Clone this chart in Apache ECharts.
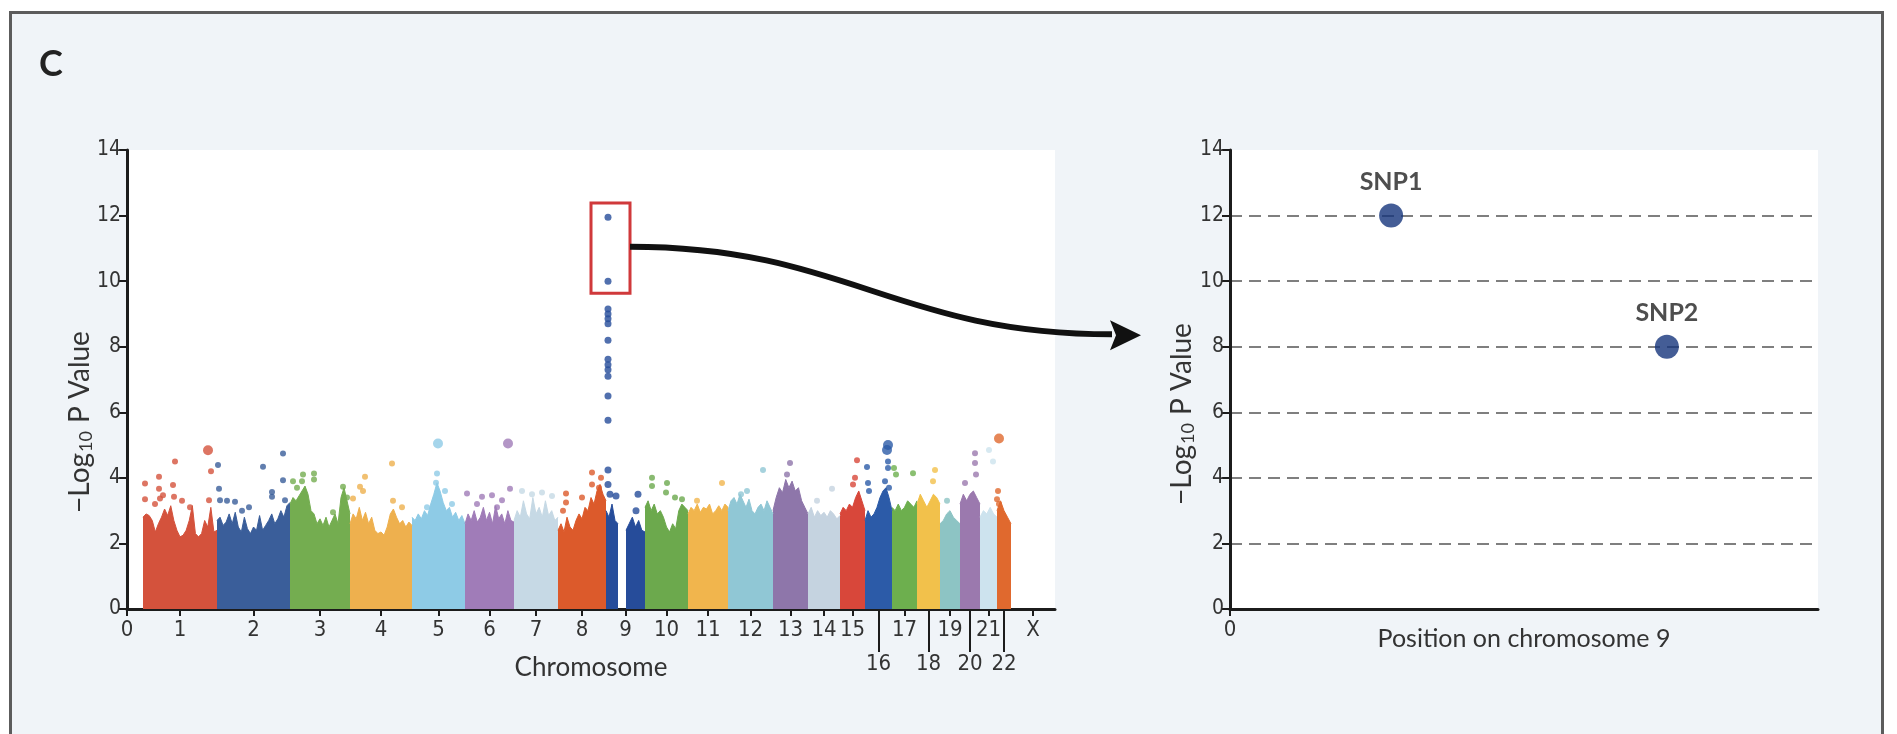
<!DOCTYPE html>
<html>
<head>
<meta charset="utf-8">
<title>Manhattan plot – chromosome 9 signal</title>
<script src="https://cdn.jsdelivr.net/npm/echarts@6/dist/echarts.min.js"></script>
<style>
  html, body { margin: 0; padding: 0; background: #ffffff; }
  #frame {
    position: absolute; left: 9px; top: 11px; width: 1875px; height: 760px;
    background: #f0f4f8; border: 3px solid #5c5c5c; box-sizing: border-box;
  }
  #chart { position: absolute; left: 0; top: 0; width: 1897px; height: 734px; }
</style>
</head>
<body>
<div id="frame"></div>
<div id="chart"></div>
<script>
// ---- genome layout (cumulative position units along the x axis) ----
const chromNames = ['1','2','3','4','5','6','7','8','9','10','11','12','13','14','15','16','17','18','19','20','21','22','X'];
const chromStart = [16, 90, 163, 223, 285, 338, 387, 431, 479, 518, 561, 601, 646, 681, 713, 738, 765, 790, 813, 833, 853, 870, 884];
const chromEnd   = [90, 163, 223, 285, 338, 387, 431, 479, 518, 561, 601, 646, 681, 713, 738, 765, 790, 813, 833, 853, 870, 884, 928];
const chr9Gap = [491, 499];
const longTickChroms = ['16', '18', '20', '22'];

const chromColors = ['#d4523c','#3a5e9a','#74ad50','#eeb04e','#8ecbe6','#a07cb8','#c6d9e5','#dc5a2b',
                     '#264c9a','#6ca94d','#f1b54d','#90c7d5','#8e76aa','#c5d3e0','#d8473a','#2c5ba8',
                     '#6daf4e','#f2c14b','#8dc4c4','#9b79ae','#cde3ee','#e0692e','#999999'];

// ---- upper envelope of the -log10 P cloud, evenly spread over each chromosome ----
const top1  = [2.8, 2.9, 2.85, 2.7, 2.35, 2.6, 2.8, 3.05, 2.85, 3.15, 2.7, 2.4, 2.2, 2.25, 2.4, 2.7, 3.15, 2.3, 2.2, 2.3, 2.7, 2.5, 3.1, 2.35, 2.4];
const top2  = [2.7, 2.8, 2.55, 2.65, 2.9, 2.6, 2.95, 2.5, 2.35, 2.8, 2.45, 2.3, 2.5, 2.4, 2.85, 2.4, 2.55, 2.7, 2.9, 2.6, 2.75, 3.0, 2.8, 3.15, 3.25];
const top3  = [3.2, 3.4, 3.3, 3.45, 3.6, 3.75, 3.5, 3.0, 2.9, 2.6, 2.75, 2.55, 2.8, 2.5, 2.7, 2.9, 2.6, 3.4, 3.7, 3.3, 2.9];
const top4  = [2.6, 2.9, 2.75, 3.1, 2.7, 2.95, 2.6, 2.8, 2.4, 2.3, 2.35, 2.25, 2.5, 2.9, 3.05, 2.8, 2.6, 2.7, 2.5, 2.65, 2.55];
const top5  = [2.8, 2.7, 2.9, 2.75, 3.0, 2.85, 3.2, 3.5, 3.85, 3.6, 3.25, 3.0, 3.1, 2.8, 2.95, 2.7, 2.85, 2.6];
const top6  = [2.6, 2.9, 2.7, 3.0, 2.65, 2.8, 3.1, 2.7, 2.95, 2.6, 3.15, 2.75, 2.9, 2.6, 3.0, 2.7, 2.65];
const top7  = [2.7, 3.0, 2.8, 3.3, 2.9, 2.75, 3.4, 2.9, 3.1, 2.8, 3.3, 2.85, 3.0, 2.7, 2.8];
const top8  = [2.4, 2.6, 2.35, 2.8, 2.5, 2.4, 2.7, 2.9, 2.75, 3.1, 3.0, 3.4, 3.2, 3.6, 3.8, 3.5, 3.3];
const top9a = [3.0, 2.8, 3.2, 2.7, 2.6];
const top9b = [2.4, 2.6, 2.8, 2.5, 2.7, 2.4, 2.35];
const top10 = [3.1, 3.3, 3.0, 3.2, 2.9, 3.0, 2.8, 2.5, 2.35, 2.6, 2.45, 3.0, 3.2, 3.1, 3.0];
const top11 = [2.9, 3.1, 3.0, 3.2, 2.95, 3.1, 3.05, 3.2, 2.9, 3.0, 3.15, 3.0, 3.2, 3.1];
const top12 = [3.0, 3.3, 3.4, 3.2, 3.5, 3.3, 3.1, 3.35, 3.0, 2.9, 3.1, 3.2, 3.0, 3.3, 3.1, 2.9];
const top13 = [3.0, 3.4, 3.7, 3.55, 3.95, 3.7, 3.9, 3.6, 3.7, 3.3, 3.1, 2.9];
const top14 = [2.9, 3.1, 2.8, 3.0, 2.85, 2.95, 2.8, 3.0, 2.9, 2.75, 2.85];
const top15 = [2.9, 3.1, 3.0, 3.2, 3.1, 3.4, 3.6, 3.3, 3.0];
const top16 = [2.7, 3.0, 2.8, 2.9, 3.1, 3.4, 3.6, 3.7, 3.4, 3.0];
const top17 = [3.1, 3.0, 3.2, 3.0, 3.1, 3.3, 3.2, 3.1, 3.3];
const top18 = [3.2, 3.5, 3.3, 3.1, 3.3, 3.5, 3.4, 3.2];
const top19 = [2.6, 2.7, 2.9, 3.0, 2.8, 2.7, 2.6];
const top20 = [3.2, 3.5, 3.3, 3.5, 3.6, 3.4, 3.2];
const top21 = [2.8, 3.0, 2.9, 3.1, 2.9, 2.8];
const top22 = [3.0, 3.3, 3.0, 2.8, 2.6];

// ---- individual SNPs standing above the envelope: [position, -log10 P] ----
const hits1  = [[18,3.83],[18,3.35],[32,4.03],[32,3.67],[33,3.37],[48,4.5],[46,3.78],[47,3.42],[36,3.47],[63,3.1],[84,4.2],[82,3.32],[28,3.2],[55,3.3]];
const hits2  = [[91,4.39],[92,3.67],[93,3.32],[108,3.27],[122,3.1],[136,4.34],[145,3.57],[145,3.42],[156,4.74],[156,3.93],[158,3.32],[115,3.0],[100,3.3]];
const hits3  = [[166,3.9],[175,3.9],[176,4.1],[187,4.13],[187,3.95],[216,3.73],[220,3.4],[206,2.95],[170,3.7]];
const hits4  = [[226,3.37],[233,3.73],[238,4.03],[236,3.6],[265,4.44],[266,3.3],[275,3.1]];
const hits5  = [[310,4.13],[309,3.85],[318,3.6],[300,3.1],[325,3.2]];
const hits6  = [[340,3.52],[355,3.42],[365,3.47],[375,3.32],[383,3.67],[350,3.2],[370,3.1]];
const hits7  = [[395,3.6],[405,3.5],[415,3.55],[425,3.45]];
const hits8  = [[439,3.52],[439,3.25],[465,4.16],[474,4.0],[465,3.8],[472,3.7],[455,3.4],[436,3.0]];
const hits9  = [[481,11.95],[481,10.0],[481,9.15],[481,9.0],[481,8.85],[481,8.7],[481,8.2],[481,7.62],[481,7.45],[481,7.3],[481,7.1],[481,6.5],[481,5.76],[481,4.24],[481,3.8],[483,3.5],[489,3.45],[511,3.5],[509,3.0]];
const hits10 = [[525,4.0],[525,3.75],[540,3.84],[539,3.55],[548,3.4],[555,3.35]];
const hits11 = [[595,3.84],[570,3.3]];
const hits12 = [[636,4.24],[614,3.5],[620,3.6]];
const hits13 = [[663,4.45],[660,4.1]];
const hits14 = [[705,3.67],[690,3.3]];
const hits15 = [[730,4.54],[728,4.0],[726,3.8]];
const hits16 = [[740,4.33],[741,3.84],[742,3.6],[761,4.5],[761,4.3],[758,3.9],[762,3.7]];
const hits17 = [[767,4.3],[769,4.1],[786,4.14]];
const hits18 = [[808,4.24],[806,3.9]];
const hits19 = [[820,3.3]];
const hits20 = [[848,4.75],[848,4.45],[838,3.84],[849,4.1]];
const hits21 = [[862,4.85],[866,4.5]];
const hits22 = [[871,3.6],[870,3.35],[872,3.2]];

// larger clusters of strongly associated SNPs, drawn with a bigger marker
const leadHits = [[81,4.84,'1'],[311,5.05,'5'],[381,5.05,'6'],[761,5.0,'16'],[760,4.85,'16'],[872,5.2,'22']];

// region outlined on chromosome 9 and expanded on the right: [x0, y0, x1, y1]
const highlightBox = [464, 9.63, 503, 12.38];

// ---- chromosome 9 detail panel ----
const snpNames = ['SNP1', 'SNP2'];
const snpPos   = [27.4, 74.3];
const snpLogP  = [12, 8];

// ---------------------------------------------------------------------
const tops = [top1, top2, top3, top4, top5, top6, top7, top8, null, top10, top11, top12, top13, top14, top15, top16, top17, top18, top19, top20, top21, top22];
const hits = [hits1, hits2, hits3, hits4, hits5, hits6, hits7, hits8, hits9, hits10, hits11, hits12, hits13, hits14, hits15, hits16, hits17, hits18, hits19, hits20, hits21, hits22];

const tickFont = "'Liberation Sans Narrow', 'DejaVu Sans Condensed', 'Liberation Sans', sans-serif";
const textFont = "Lato, 'Open Sans', sans-serif";
const axisColor = '#1c1c1c';
const labelColor = '#333333';

const centers = chromNames.map((n, i) => (chromStart[i] + chromEnd[i]) / 2);
const shortTicks = [0].concat(centers.filter((c, i) => longTickChroms.indexOf(chromNames[i]) < 0));
const longTicks = centers.filter((c, i) => longTickChroms.indexOf(chromNames[i]) >= 0);
function chromLabel(v) {
  if (Math.abs(v) < 1e-6) return '0';
  let best = 0;
  centers.forEach((c, i) => { if (Math.abs(c - v) < Math.abs(centers[best] - v)) best = i; });
  return chromNames[best];
}

function envelope(heights, x0, x1) {
  const n = heights.length;
  return heights.map((h, i) => [x0 + (x1 - x0) * i / (n - 1), h]);
}

const series = [];
function addArea(data, color) {
  series.push({
    type: 'line', xAxisIndex: 0, yAxisIndex: 0, data: data,
    showSymbol: false, symbol: 'none', silent: true, z: 2,
    lineStyle: { color: color, width: 1 },
    areaStyle: { color: color, opacity: 1 }
  });
}
for (let i = 0; i < 22; i++) {
  const color = chromColors[i];
  if (chromNames[i] === '9') {
    addArea(envelope(top9a, chromStart[i], chr9Gap[0]), color);
    addArea(envelope(top9b, chr9Gap[1], chromEnd[i]), color);
  } else {
    addArea(envelope(tops[i], chromStart[i], chromEnd[i]), color);
  }
}
for (let i = 0; i < 22; i++) {
  const s = {
    type: 'scatter', xAxisIndex: 0, yAxisIndex: 0, data: hits[i],
    symbolSize: chromNames[i] === '9' ? 7 : 6, silent: true, z: 3,
    itemStyle: { color: chromColors[i] }
  };
  if (chromNames[i] === '9') {
    s.markArea = {
      silent: true,
      itemStyle: { color: 'rgba(0,0,0,0)', borderColor: '#d0393b', borderWidth: 3 },
      data: [[{ coord: [highlightBox[0], highlightBox[1]] }, { coord: [highlightBox[2], highlightBox[3]] }]]
    };
  }
  series.push(s);
}
series.push({
  type: 'scatter', xAxisIndex: 0, yAxisIndex: 0, silent: true, z: 3,
  data: leadHits.map(d => ({ value: [d[0], d[1]], itemStyle: { color: chromColors[chromNames.indexOf(d[2])] } })),
  symbolSize: 10
});
series.push({
  type: 'scatter', xAxisIndex: 2, yAxisIndex: 1, silent: true, z: 4,
  data: snpNames.map((n, i) => ({ name: n, value: [snpPos[i], snpLogP[i]] })),
  symbolSize: 24,
  itemStyle: { color: '#15347c' },
  label: {
    show: true, position: 'top', distance: 9, formatter: '{b}',
    fontFamily: textFont, fontWeight: 'bold', fontSize: 25, color: '#222222'
  }
});

const yAxisBase = {
  type: 'value', min: 0, max: 14, interval: 2,
  axisLine: { show: true, lineStyle: { color: axisColor, width: 3 } },
  axisTick: { show: true, length: 8, lineStyle: { color: axisColor, width: 2 } },
  axisLabel: { fontFamily: tickFont, fontSize: 21, color: labelColor, margin: 6 },
  splitLine: { show: false }
};

const chart = echarts.init(document.getElementById('chart'), null, { renderer: 'canvas' });
chart.setOption({
  animation: false,
  backgroundColor: 'transparent',
  grid: [
    { left: 127, top: 150, width: 928, height: 459, show: true, backgroundColor: '#ffffff', borderWidth: 0 },
    { left: 1230, top: 150, width: 588, height: 459, show: true, backgroundColor: '#ffffff', borderWidth: 0 }
  ],
  xAxis: [
    {
      type: 'value', gridIndex: 0, min: 0, max: 928,
      axisLine: { show: true, onZero: false, lineStyle: { color: axisColor, width: 3 } },
      axisTick: { show: true, customValues: shortTicks, length: 7, lineStyle: { color: axisColor, width: 2 } },
      axisLabel: { show: true, customValues: shortTicks, formatter: chromLabel, margin: 10, fontFamily: tickFont, fontSize: 22, color: labelColor },
      splitLine: { show: false },
      name: 'Chromosome', nameLocation: 'middle', nameGap: 46,
      nameTextStyle: { fontFamily: textFont, fontSize: 26, color: labelColor }
    },
    {
      type: 'value', gridIndex: 0, min: 0, max: 928, position: 'bottom',
      axisLine: { show: false, onZero: false },
      axisTick: { show: true, customValues: longTicks, length: 43, lineStyle: { color: axisColor, width: 2 } },
      axisLabel: { show: true, customValues: longTicks, formatter: chromLabel, margin: 44, fontFamily: tickFont, fontSize: 22, color: labelColor },
      splitLine: { show: false }
    },
    {
      type: 'value', gridIndex: 1, min: 0, max: 100,
      axisLine: { show: true, onZero: false, lineStyle: { color: axisColor, width: 3 } },
      axisTick: { show: true, customValues: [0], length: 7, lineStyle: { color: axisColor, width: 2 } },
      axisLabel: { show: true, customValues: [0], margin: 10, fontFamily: tickFont, fontSize: 22, color: labelColor },
      splitLine: { show: false },
      name: 'Position on chromosome 9', nameLocation: 'middle', nameGap: 17, nameMoveOverlap: false,
      nameTextStyle: { fontFamily: textFont, fontSize: 25, color: labelColor }
    }
  ],
  yAxis: [
    Object.assign({ gridIndex: 0 }, yAxisBase),
    Object.assign({}, yAxisBase, {
      gridIndex: 1,
      splitLine: { show: true, showMinLine: false, showMaxLine: false,
                   lineStyle: { color: '#7f7f7f', width: 2, type: [12, 7] } }
    })
  ],
  series: series
});

// arrow from the outlined region to the detail panel, anchored on both coordinate systems
const arrowStartValue = 11.05;
const arrowTipValue = 8.35;
const start = chart.convertToPixel({ xAxisIndex: 0, yAxisIndex: 0 }, [highlightBox[2], arrowStartValue]);
const tipRef = chart.convertToPixel({ xAxisIndex: 2, yAxisIndex: 1 }, [0, arrowTipValue]);
const tip = [tipRef[0] - 89, tipRef[1]];
const headLen = 31, headHalf = 15;
const lineEnd = [tip[0] - headLen + 2, tip[1] - 1];
const dx = lineEnd[0] - start[0];

const yTitle = (x, y) => ({
  type: 'text', x: x, y: y, rotation: Math.PI / 2, silent: true,
  style: {
    text: '\u2212Log{s|10} P Value', align: 'center', verticalAlign: 'middle',
    fill: labelColor, font: '28px ' + textFont,
    rich: { s: { fontSize: 18, fontFamily: textFont, fill: labelColor, padding: [13, 1, 0, 1] } }
  }
});

chart.setOption({
  graphic: [
    { type: 'text', x: 39, y: 46, silent: true,
      style: { text: 'C', fill: '#222222', font: 'bold 36px ' + textFont } },
    yTitle(80, 422),
    yTitle(1182, 414),
    { type: 'bezierCurve', silent: true, z: 10,
      shape: { x1: start[0], y1: start[1], cpx1: start[0] + dx * 0.45, cpy1: start[1],
               cpx2: lineEnd[0] - dx * 0.45, cpy2: lineEnd[1], x2: lineEnd[0], y2: lineEnd[1] },
      style: { stroke: '#111111', lineWidth: 6, fill: null } },
    { type: 'polygon', silent: true, z: 10,
      shape: { points: [[tip[0], tip[1]], [tip[0] - headLen, tip[1] - headHalf], [tip[0] - headLen + 6, tip[1]], [tip[0] - headLen, tip[1] + headHalf]] },
      style: { fill: '#111111' } }
  ]
});
</script>
</body>
</html>
